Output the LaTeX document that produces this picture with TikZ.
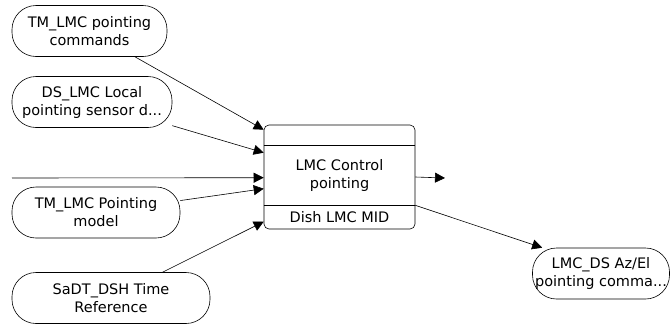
\documentclass[tikz,border=0pt]{standalone}
\usepackage{fontspec}
\setmainfont{DejaVu Sans}
\usetikzlibrary{arrows.meta, positioning}

\begin{document}
\begin{tikzpicture}[x=1pt, y=-1pt, font=\fontsize{14.5}{18}\selectfont, line width=0.6pt,
  flow/.style={rectangle, draw, rounded corners=24pt, align=center, minimum height=51pt, inner sep=2pt},
  arr/.style={-{Triangle[length=10pt,width=10pt]}}]
\useasboundingbox (0,0) rectangle (670,325);
\node (tmcmd) [flow, minimum width=155pt] at (89.5,31) {TM\_LMC pointing\\commands};
\node (dslocal) [flow, minimum width=160pt] at (92,102) {DS\_LMC Local\\pointing sensor d...};
\node (tmmodel) [flow, minimum width=168pt] at (96,212.5) {TM\_LMC Pointing\\model};
\node (sadt) [flow, minimum width=198pt] at (111,298) {SaDT\_DSH Time\\Reference};
\node (azel) [flow, minimum width=137pt] at (601,273.5) {LMC\_DS Az/El\\pointing comma...};
\node (ctrl) [rectangle, draw, rounded corners=5pt, minimum width=151pt, minimum height=104pt] at (339.5,177) {};
\node (ctrltext) [align=center] at (339.5,175.5) {LMC Control\\pointing};
\node (mid) at (339.5,217) {Dish LMC MID};
\coordinate (src) at (12,178);
\coordinate (res) at (445,178);
\draw ([yshift=-21pt]ctrl.north west) -- ([yshift=-21pt]ctrl.north east);
\draw ([yshift=24pt]ctrl.south west) -- ([yshift=24pt]ctrl.south east);
\draw [arr] (tmcmd) -- ([yshift=-5pt]ctrl.north west);
\draw [arr] (dslocal) -- ([yshift=-28pt]ctrl.north west);
\draw [arr] (src) -- ([yshift=-53pt]ctrl.north west);
\draw [arr] (tmmodel) -- ([yshift=-64pt]ctrl.north west);
\draw [arr] (sadt) -- ([yshift=-97pt]ctrl.north west);
\draw [arr] (ctrl.east) -- (res);
\draw [arr] ([yshift=24pt]ctrl.south east) -- ([xshift=10pt]azel.north west);
\end{tikzpicture}
\end{document}
